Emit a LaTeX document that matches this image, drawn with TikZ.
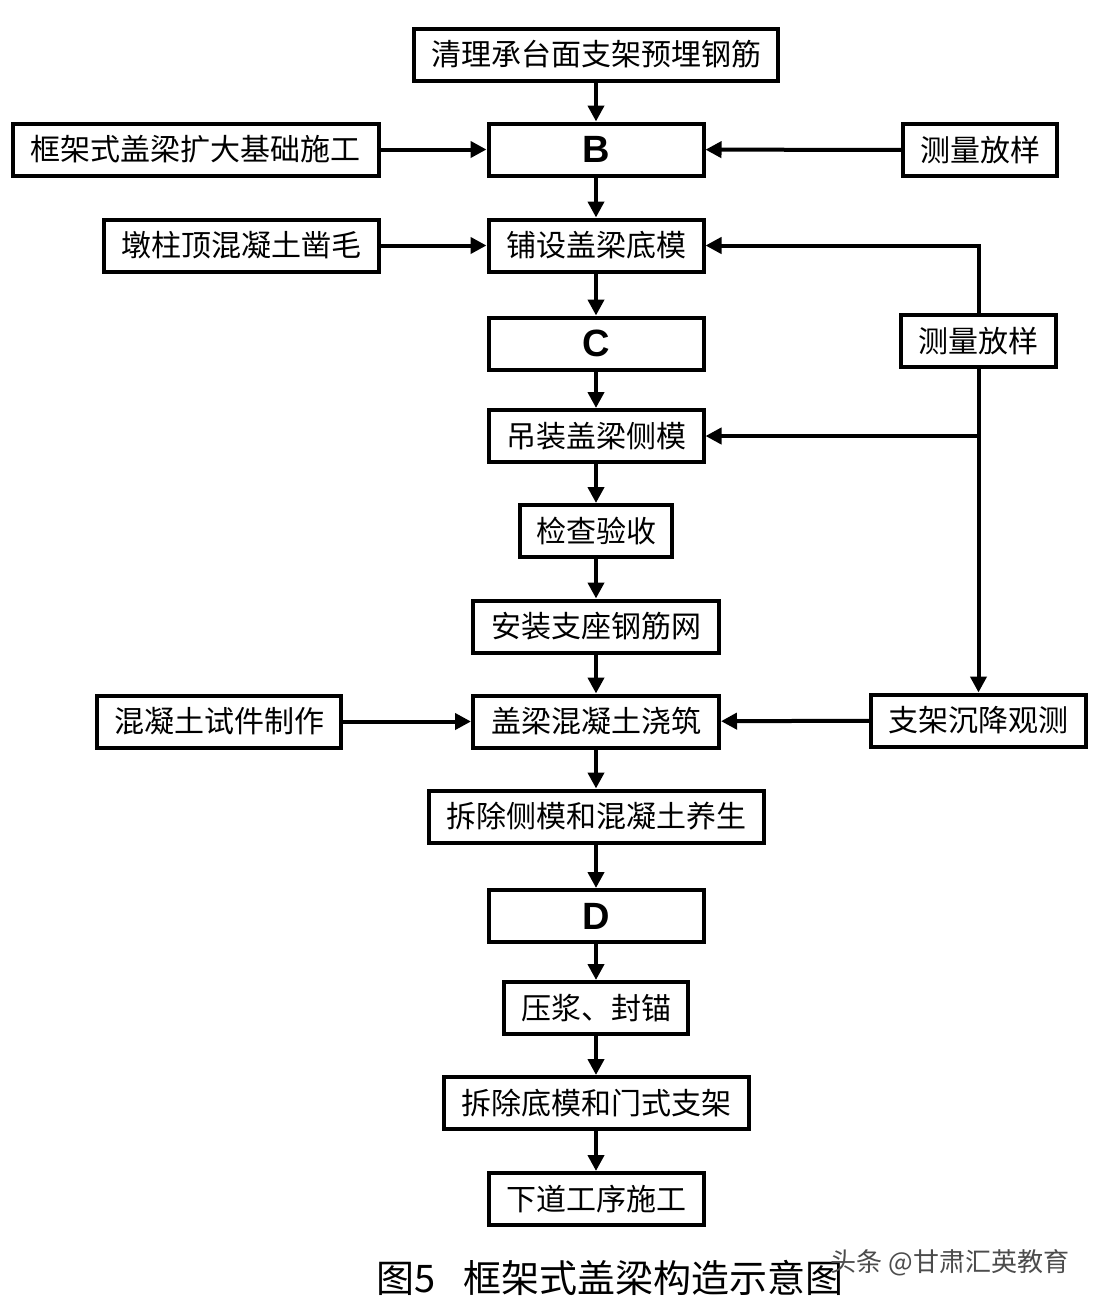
\documentclass[tikz,border=0pt]{standalone}
\usepackage{fontspec}
\newfontfamily\cjk{Noto Sans CJK SC}
\newfontfamily\letterfont{Liberation Sans}
\usetikzlibrary{%
    arrows.meta,
    calc,
    positioning
}
\tikzset{headarrow/.style = {-{Triangle[length=8pt,width=8pt]}, line width=2pt}}
\tikzset{box/.style = {draw, line width=2pt, minimum height=26pt, inner sep=0pt,
    font=\cjk\fontsize{15}{17}\selectfont}}
\tikzset{letterbox/.style = {box, minimum width=107.5pt,
    font=\letterfont\bfseries\fontsize{19}{21}\selectfont}}

\begin{document}
\begin{tikzpicture}[x=0.5pt,y=-0.5pt]
    \useasboundingbox[fill=white] (0,0) rectangle (1104,1302);

    % middle column
    \node[box,minimum width=182pt]   (qingli)     at (596,54.5)  {清理承台面支架预埋钢筋};
    \node[letterbox]                 (B)          at (596,149.5) {B};
    \node[box,minimum width=107.5pt] (pushe)      at (596,245.5) {铺设盖梁底模};
    \node[letterbox]                 (C)          at (596,343.5) {C};
    \node[box,minimum width=107.5pt] (diaozhuang) at (596,436)   {吊装盖梁侧模};
    \node[box,minimum width=76pt]    (jiancha)    at (596,531)   {检查验收};
    \node[box,minimum width=123pt]   (anzhuang)   at (596,626.5) {安装支座钢筋网};
    \node[box,minimum width=123pt]   (jiaozhu)    at (596,721.5) {盖梁混凝土浇筑};
    \node[box,minimum width=167.5pt] (chaice)     at (596,816.5) {拆除侧模和混凝土养生};
    \node[letterbox]                 (D)          at (596,916)   {D};
    \node[box,minimum width=92pt]    (yajiang)    at (596,1008)  {压浆、封锚};
    \node[box,minimum width=152.5pt] (chaidi)     at (596,1103)  {拆除底模和门式支架};
    \node[box,minimum width=107.5pt] (xiadao)     at (596,1199)  {下道工序施工};

    % side boxes
    \node[box,minimum width=183pt]   (kuangjia)   at (196,149.5)   {框架式盖梁扩大基础施工};
    \node[box,minimum width=77pt]    (celiang1)   at (980,150)     {测量放样};
    \node[box,minimum width=137.5pt] (dunzhu)     at (241.5,245.5) {墩柱顶混凝土凿毛};
    \node[box,minimum width=77.5pt]  (celiang2)   at (978.5,341)   {测量放样};
    \node[box,minimum width=122pt]   (shijian)    at (219,721.5)   {混凝土试件制作};
    \node[box,minimum width=107.5pt] (chenjiang)  at (978.5,720.5) {支架沉降观测};

    \foreach \Source/\Target in {%
        qingli/B,
        B/pushe,
        pushe/C,
        C/diaozhuang,
        diaozhuang/jiancha,
        jiancha/anzhuang,
        anzhuang/jiaozhu,
        jiaozhu/chaice,
        chaice/D,
        D/yajiang,
        yajiang/chaidi,
        chaidi/xiadao}
            \draw[headarrow] (\Source) -- (\Target);

    \foreach \Source/\Target in {%
        kuangjia/B,
        celiang1/B,
        dunzhu/pushe,
        shijian/jiaozhu,
        chenjiang/jiaozhu}
            \draw[headarrow] (\Source) -- (\Target);

    % right loop
    \draw[headarrow] (celiang2.north) |- (pushe.east);
    \draw[headarrow] (celiang2.south) -- (chenjiang.north);
    \coordinate (branch) at (celiang2.south |- diaozhuang.east);
    \draw[headarrow] (branch) -- (diaozhuang.east);

    % caption
    \node[inner sep=0pt,font=\cjk\fontsize{19}{21}\selectfont] (caption) at (610,1278)
        {图5\hspace{14pt}框架式盖梁构造示意图};
    \node[inner sep=0pt,text=black!70,font=\cjk\fontsize{13}{15}\selectfont] (mark) at (950,1263)
        {头条 @甘肃汇英教育};
\end{tikzpicture}
\end{document}
